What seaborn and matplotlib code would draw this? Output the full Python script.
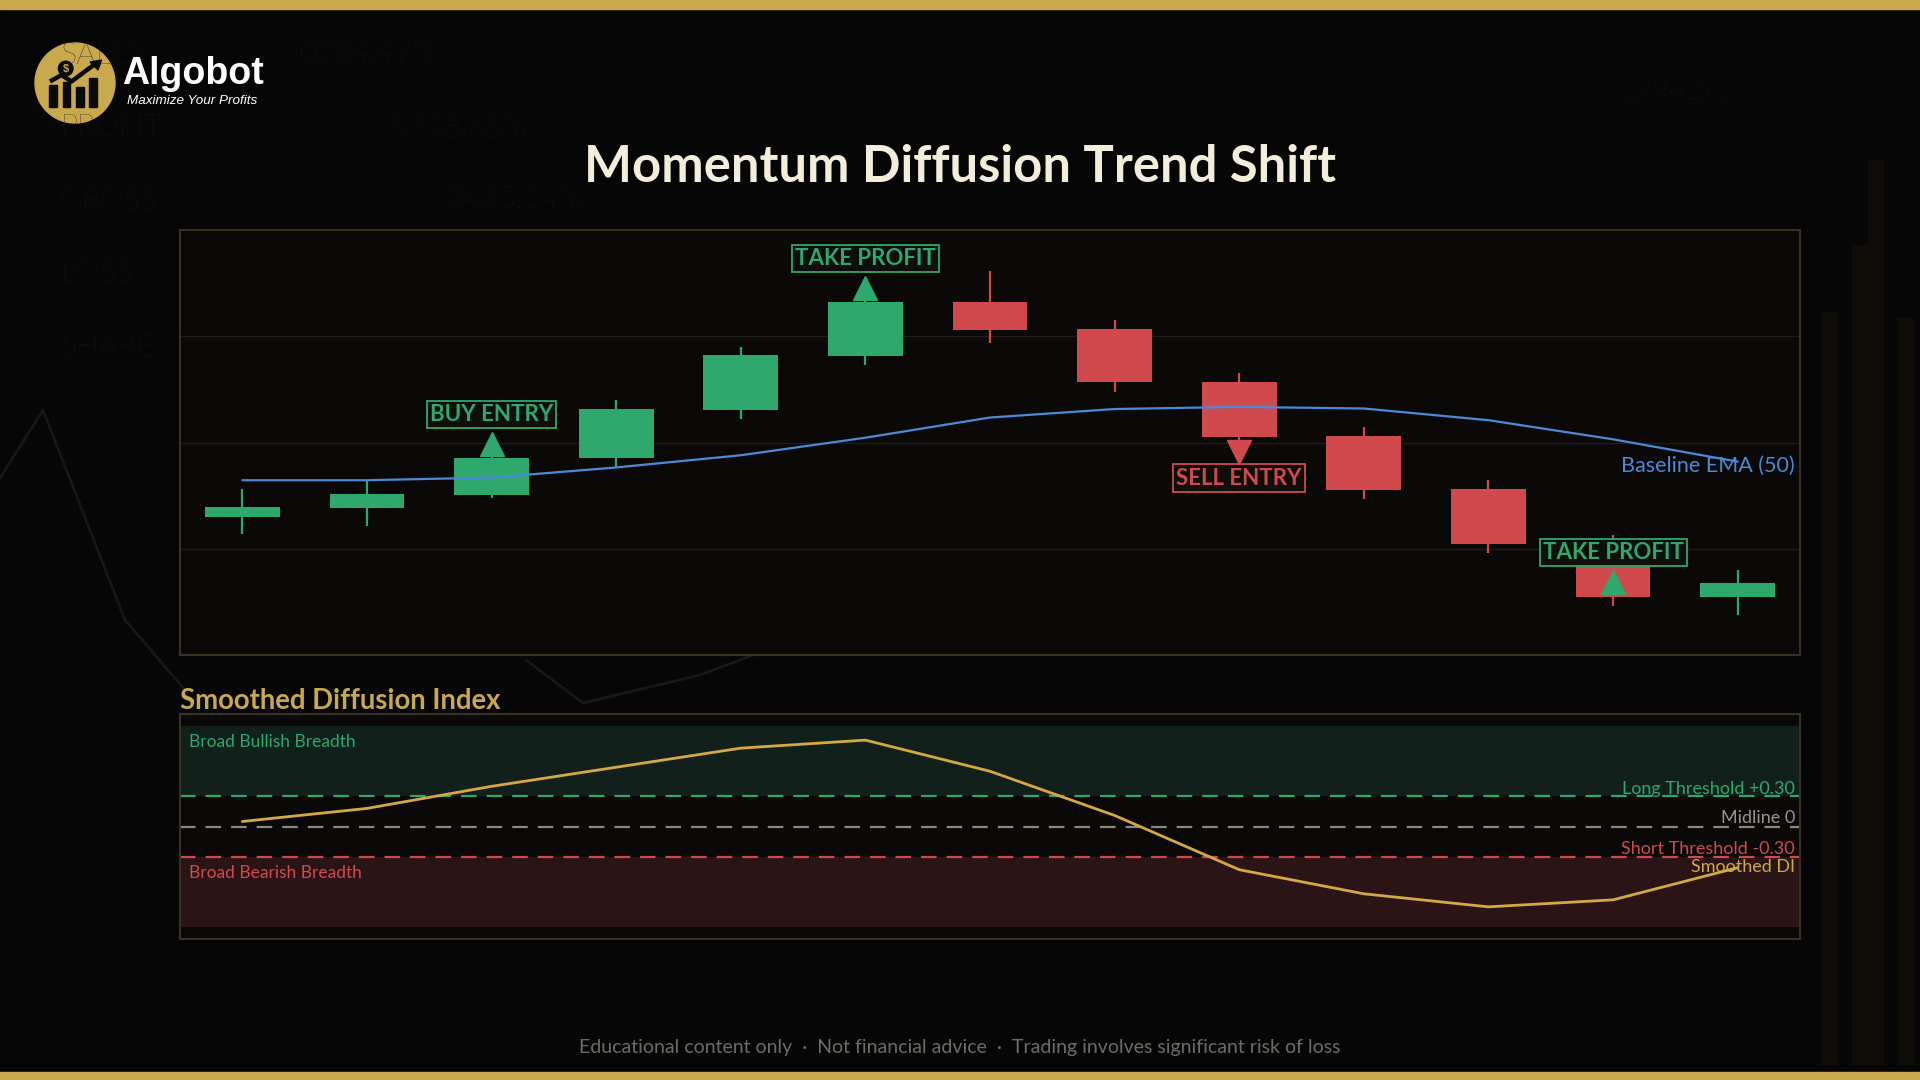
import numpy as np
import seaborn as sns
import matplotlib.pyplot as plt
from matplotlib.patches import Circle, Rectangle, Polygon

# ---- price candles (13 bars) ----
bar_idx = list(range(13))
opens = [98.60, 98.77, 99.02, 99.70, 100.62, 101.63, 102.65, 102.14, 101.14, 100.12, 99.12, 97.85, 97.10]
closes = [98.79, 99.03, 99.71, 100.63, 101.65, 102.65, 102.12, 101.13, 100.11, 99.11, 98.09, 97.10, 97.36]
highs = [99.12, 99.28, 99.76, 100.80, 101.80, 102.70, 103.23, 102.31, 101.31, 100.29, 99.29, 98.26, 97.60]
lows = [98.27, 98.43, 98.95, 99.53, 100.45, 101.46, 101.87, 100.96, 100.05, 98.94, 97.92, 96.93, 96.75]
ema50 = [99.29, 99.29, 99.34, 99.53, 99.76, 100.09, 100.47, 100.63, 100.67, 100.64, 100.42, 100.06, 99.64]

# ---- smoothed diffusion index ----
smoothed_di = [0.05, 0.18, 0.40, 0.59, 0.78, 0.86, 0.55, 0.11, -0.43, -0.67, -0.80, -0.73, -0.41]
long_thr = 0.30
mid_line = 0.0
short_thr = -0.30
zone_edge = 1.0

# ---- trade signals ----
signal_idx = [2, 5, 8, 11]
signal_text = ["BUY ENTRY", "TAKE PROFIT", "SELL ENTRY", "TAKE PROFIT"]
signal_side = ["long", "long", "short", "long"]
signal_marker = ["^", "^", "v", "^"]
marker_price = [99.98, 102.91, 99.83, 97.38]
label_price = [100.53, 103.46, 99.33, 97.93]

# faint background decoration
bg_words = ["SALES", "PROFIT", "GROSS", "LOSS", "SHARE"]
bg_values = ["0284.47%", "5748.65%", "3425.14%", "1294.51"]
bg_bar_x = [1822, 1852, 1868, 1898]
bg_bar_top = [312, 245, 160, 318]

GREEN = "#2ea86c"
RED = "#d04a4d"
BLUE = "#4a8ad6"
GOLD = "#c9a94d"
BG = "#070606"
PANEL = "#0a0908"
EDGE = "#3a3122"
FAINT = "#161513"

sns.set_theme(style="dark")
plt.rcParams["font.family"] = ["Lato", "DejaVu Sans"]

fig = plt.figure(figsize=(19.2, 10.8), dpi=100, facecolor=BG)

# background layer in pixel coordinates
bg = fig.add_axes([0, 0, 1, 1], zorder=0)
bg.set_xlim(0, 1920)
bg.set_ylim(1080, 0)
bg.axis("off")
bg.add_patch(Rectangle((0, 0), 1920, 9, color=GOLD))
bg.add_patch(Rectangle((0, 1072), 1920, 8, color=GOLD))
for i, w in enumerate(bg_words):
    bg.text(60, 55 + 73 * i, w, color=FAINT, fontsize=22, fontweight="light", va="center")
bg.text(300, 55, bg_values[0], color=FAINT, fontsize=22, fontweight="light", va="center")
bg.text(390, 128, bg_values[1], color=FAINT, fontsize=22, fontweight="light", va="center")
bg.text(445, 200, bg_values[2], color=FAINT, fontsize=22, fontweight="light", va="center")
bg.text(1616, 92, bg_values[3], color=FAINT, fontsize=22, fontweight="light", va="center")
bg.plot([0, 43, 125, 185], [478, 410, 620, 690], color="#181715", lw=2)
bg.plot([526, 583, 700, 900], [660, 703, 675, 600], color="#181715", lw=2)
for bx, bt in zip(bg_bar_x, bg_bar_top):
    bg.add_patch(Rectangle((bx, bt), 16, 1065 - bt, color="#0f0c08", lw=0))

# logo
bg.add_patch(Circle((75, 83), 40, color=GOLD))
for bx, top in zip([49, 62.5, 76, 89], [85, 81.5, 87, 78]):
    bg.add_patch(Rectangle((bx, top), 7.5, 106.5 - top, color="#0a0a0a"))
bg.plot([50, 61.5, 71.5, 95], [81.5, 75, 81.5, 64], color="#0a0a0a", lw=3.2, solid_capstyle="butt")
bg.add_patch(Polygon([[101.5, 60], [90, 62], [98, 70]], color="#0a0a0a"))
bg.add_patch(Circle((65.7, 68.5), 7.3, color="#0a0a0a"))
bg.text(65.7, 68.8, "$", color=GOLD, fontsize=8, fontweight="bold", ha="center", va="center",
        family="Liberation Sans")
bg.text(122, 84, "Algobot", color="white", fontsize=27, fontweight="bold", va="baseline",
        family="Liberation Sans")
bg.text(127, 101, "Maximize Your Profits", color="white", fontsize=9.7, style="italic",
        va="center", family="Liberation Sans")

fig.text(0.5, 1 - 167 / 1080, "Momentum Diffusion Trend Shift", color="#f3eddc",
         fontsize=36.5, fontweight="bold", ha="center", va="center")
fig.text(0.5, 1 - 1047 / 1080,
         "Educational content only  \u00b7  Not financial advice  \u00b7  Trading involves significant risk of loss",
         color="#6f6c66", fontsize=14, ha="center", va="center")
fig.text(180 / 1920, 1 - 701 / 1080, "Smoothed Diffusion Index", color=GOLD, fontsize=19.8,
         fontweight="bold", ha="left", va="center")


def style_panel(ax):
    ax.set_facecolor(PANEL)
    for s in ax.spines.values():
        s.set_color(EDGE)
        s.set_linewidth(1.5)
        s.set_visible(True)
    ax.tick_params(length=0, labelbottom=False, labelleft=False)
    ax.set_xlabel("")
    ax.set_ylabel("")


# ---- main price panel ----
ax = fig.add_axes([180 / 1920, 1 - 655 / 1080, 1620 / 1920, 425 / 1080], zorder=2)
style_panel(ax)
x = np.array(bar_idx)
o = np.array(opens)
c = np.array(closes)
colors = [GREEN if cc >= oo else RED for oo, cc in zip(o, c)]
ax.vlines(x, lows, highs, colors=colors, lw=1.6, zorder=2)
ax.bar(x, np.abs(c - o), bottom=np.minimum(o, c), width=0.6, color=colors, lw=0, zorder=3)
sns.lineplot(x=bar_idx, y=ema50, ax=ax, color=BLUE, lw=1.6, zorder=4)
ax.text(12.46, 99.56, "Baseline EMA (50)", color=BLUE, fontsize=15.5, ha="right", va="center", zorder=6)

for i, txt, side, mk, mp, lp in zip(signal_idx, signal_text, signal_side, signal_marker,
                                    marker_price, label_price):
    col = GREEN if side == "long" else RED
    ax.plot([i], [mp], marker=mk, ms=17, color=col, ls="none", zorder=5)
    ax.text(i, lp, txt, color=col, fontsize=16, fontweight="bold", ha="center", va="center", zorder=6,
            bbox=dict(boxstyle="square,pad=0.14", fc="#0e0e0c", ec=col, lw=1.3))

ax.set_xlim(-0.5, 12.5)
ax.set_ylim(96, 104)
ax.set_yticks([98, 100, 102])
ax.grid(axis="y", color="#1f1d1a", lw=1)
ax.grid(axis="x", visible=False)

# ---- diffusion index panel ----
ax2 = fig.add_axes([180 / 1920, 1 - 939 / 1080, 1620 / 1920, 225 / 1080], zorder=2)
style_panel(ax2)
ax2.axhspan(long_thr, zone_edge, color="#11201a", lw=0, zorder=1)
ax2.axhspan(-zone_edge, short_thr, color="#2a1416", lw=0, zorder=1)
ax2.axhline(long_thr, color=GREEN, lw=1.6, dashes=(7, 4.5), zorder=2)
ax2.axhline(mid_line, color="#8d887e", lw=1.6, dashes=(7, 4.5), zorder=2)
ax2.axhline(short_thr, color=RED, lw=1.6, dashes=(7, 4.5), zorder=2)
sns.lineplot(x=bar_idx, y=smoothed_di, ax=ax2, color="#d4a843", lw=2, zorder=3)

ax2.text(-0.43, 0.84, "Broad Bullish Breadth", color=GREEN, fontsize=12.5, ha="left", va="center")
ax2.text(-0.43, -0.46, "Broad Bearish Breadth", color=RED, fontsize=12.5, ha="left", va="center")
ax2.text(12.46, 0.37, "Long Threshold +0.30", color=GREEN, fontsize=13, ha="right", va="center")
ax2.text(12.46, 0.08, "Midline 0", color="#9a958a", fontsize=13, ha="right", va="center")
ax2.text(12.46, -0.225, "Short Threshold -0.30", color=RED, fontsize=13, ha="right", va="center")
ax2.text(12.46, -0.40, "Smoothed DI", color="#d4a843", fontsize=13, ha="right", va="center")

ax2.set_xlim(-0.5, 12.5)
ax2.set_ylim(-1.12, 1.12)
ax2.grid(False)

fig.savefig("out.png", dpi=100, facecolor=BG)
